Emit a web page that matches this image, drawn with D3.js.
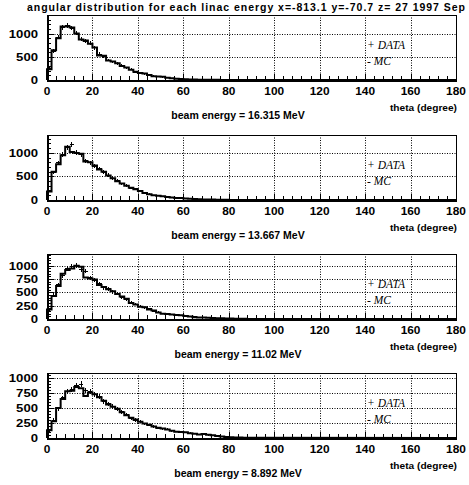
<!DOCTYPE html>
<html>
<head>
<meta charset="utf-8">
<script src="https://cdn.jsdelivr.net/npm/d3@7"></script>
<style>
  body { margin: 0; background: #fff; }
  text { font-family: "Liberation Sans", Arial, sans-serif; font-weight: bold; }
  text.leg { font-family: "Liberation Serif", "Times New Roman", serif; font-style: italic; font-weight: normal; }
  line, rect { shape-rendering: crispEdges; }
</style>
</head>
<body>
<div id="chart"></div>
<script>
// 2 degree bins from 0 to 90, rest of the range is empty
const binWidth = 2;
const energies = ["16.315", "13.667", "11.02", "8.892"];
const yMaxes = [1400, 1380, 1220, 1085];
const yMajor = [500, 500, 250, 250];
const yMinor = [100, 100, 50, 50];
const xTicks = [0, 20, 40, 60, 80, 100, 120, 140, 160, 180];

const mc1 = [230,640,900,1150,1150,1130,1000,870,850,780,700,530,520,420,400,360,300,270,220,180,150,140,110,80,75,70,50,40,25,20,18,12,10,8,6,5,4,3,2,2,1,1,0,0,0];
const data1 = [250,620,920,1130,1170,1120,1010,880,830,790,690,560,510,430,390,350,310,260,230,170,155,135,115,85,70,65,55,35,28,22,15,13,9,7,6,4,3,3,2,1,1,0,0,0,0];
const mc2 = [180,600,760,950,1130,1020,1000,980,820,800,730,650,600,520,460,400,350,300,260,230,190,150,120,100,90,80,65,55,45,40,30,25,20,15,12,10,8,5,4,3,2,2,1,1,0];
const data2 = [200,580,790,970,1110,1170,1010,960,830,790,720,670,590,530,450,410,340,310,250,235,185,155,125,95,92,78,68,52,47,38,32,24,19,16,11,9,7,6,4,3,2,1,1,0,0];
const mc3 = [180,430,620,850,920,950,1000,980,780,760,740,640,600,560,520,470,420,380,300,270,230,220,180,160,120,100,95,85,75,70,55,45,35,30,30,25,20,15,12,10,8,5,4,3,2];
const data3 = [170,450,640,820,940,980,1010,930,900,770,730,660,590,570,510,480,410,370,310,280,240,210,190,150,125,105,90,88,72,68,58,42,38,28,32,22,18,16,11,9,7,6,4,2,2];
const mc4 = [130,280,500,650,780,790,850,830,700,760,730,680,620,560,520,490,430,380,340,310,270,240,220,190,170,160,140,120,105,100,95,80,70,60,65,55,45,35,25,15,12,10,8,5,3];
const data4 = [120,300,490,670,770,810,880,900,790,770,720,690,610,570,530,480,440,390,330,300,280,235,215,195,165,155,145,118,108,98,90,82,72,62,60,52,42,32,22,18,11,9,7,4,2];

const mcs = [mc1, mc2, mc3, mc4];
const datas = [data1, data2, data3, data4];

const width = 469, height = 485;
const left = 47, right = 456;
const tops = [15, 135, 254, 373];
const ph = 65;

const svg = d3.select("#chart").append("svg")
  .attr("width", width).attr("height", height);

svg.append("text")
  .attr("x", 246).attr("y", 11)
  .attr("text-anchor", "middle")
  .attr("font-size", 10.5)
  .attr("textLength", 438)
  .text("angular distribution for each linac energy x=-813.1 y=-70.7 z= 27 1997 Sep");

const x = d3.scaleLinear().domain([0, 180]).range([left, right]);
const px = v => Math.round(v) + 0.5;

tops.forEach((top, i) => {
  const bottom = top + ph;
  const y = d3.scaleLinear().domain([0, yMaxes[i]]).range([bottom, top]);
  const g = svg.append("g");

  // dotted grid
  const yt = d3.range(yMajor[i], yMaxes[i], yMajor[i]);
  let grid = "";
  yt.forEach(d => { grid += `M${left},${px(y(d))}H${right}`; });
  xTicks.slice(1, -1).forEach(d => { grid += `M${px(x(d))},${top}V${bottom}`; });
  g.append("path").attr("d", grid)
    .attr("fill", "none").attr("stroke", "#000").attr("stroke-width", 1)
    .attr("stroke-dasharray", "1 1.5");

  // frame
  g.append("rect")
    .attr("x", left + 0.5).attr("y", top + 0.5)
    .attr("width", right - left).attr("height", ph)
    .attr("fill", "none").attr("stroke", "#000");

  // x ticks (major every 20, minor every 4)
  let xt = "";
  d3.range(0, 181, 4).forEach(d => {
    xt += `M${px(x(d))},${bottom}V${bottom - (d % 20 === 0 ? 6 : 4)}`;
  });
  g.append("path").attr("d", xt).attr("fill", "none").attr("stroke", "#000").attr("stroke-width", 1);

  // y ticks
  let ytk = "";
  d3.range(0, yMaxes[i], yMinor[i]).forEach(d => {
    ytk += `M${left},${px(y(d))}H${left + (d % yMajor[i] === 0 ? 7 : 4)}`;
  });
  g.append("path").attr("d", ytk).attr("fill", "none").attr("stroke", "#000").attr("stroke-width", 1);

  // thick axes
  g.append("line").attr("x1", left).attr("x2", right + 1)
    .attr("y1", bottom + 0.5).attr("y2", bottom + 0.5)
    .attr("stroke", "#000").attr("stroke-width", 2);
  g.append("line").attr("x1", left + 0.5).attr("x2", left + 0.5)
    .attr("y1", top).attr("y2", bottom + 1)
    .attr("stroke", "#000").attr("stroke-width", 2);

  // tick labels
  g.selectAll("text.xl").data(xTicks).join("text").attr("class", "xl")
    .attr("x", d => x(d)).attr("y", bottom + 15)
    .attr("text-anchor", "middle").attr("font-size", 11)
    .attr("textLength", d => String(d).length * 6.6).attr("lengthAdjust", "spacingAndGlyphs")
    .text(d => d);
  g.selectAll("text.yl").data(d3.range(0, yMaxes[i], yMajor[i])).join("text").attr("class", "yl")
    .attr("x", 38).attr("y", d => y(d) + 4)
    .attr("text-anchor", "end").attr("font-size", 11)
    .attr("textLength", d => String(d).length * 7.3).attr("lengthAdjust", "spacingAndGlyphs")
    .text(d => d);

  g.append("text").attr("x", 457).attr("y", bottom + 31)
    .attr("text-anchor", "end").attr("font-size", 9.5)
    .attr("textLength", 67).attr("lengthAdjust", "spacingAndGlyphs")
    .text("theta (degree)");
  g.append("text").attr("x", 238).attr("y", bottom + 39)
    .attr("text-anchor", "middle").attr("font-size", 10.5)
    .text("beam energy = " + energies[i] + " MeV");

  // legend
  g.append("text").attr("class", "leg").attr("x", 367).attr("y", top + 34)
    .attr("font-size", 11.5).text("+ DATA");
  g.append("text").attr("class", "leg").attr("x", 367).attr("y", top + 50)
    .attr("font-size", 11.5).text("- MC");

  // data crosses
  const dat = datas[i];
  g.selectAll("line.dh").data(dat).join("line").attr("class", "dh")
    .attr("x1", (d, k) => x(k * binWidth)).attr("x2", (d, k) => x((k + 1) * binWidth))
    .attr("y1", d => y(d)).attr("y2", d => y(d))
    .attr("stroke", "#000").attr("stroke-width", 1);
  g.selectAll("line.dv").data(dat).join("line").attr("class", "dv")
    .attr("x1", (d, k) => x((k + 0.5) * binWidth)).attr("x2", (d, k) => x((k + 0.5) * binWidth))
    .attr("y1", d => y(d + Math.sqrt(d) * 1.5)).attr("y2", d => y(Math.max(0, d - Math.sqrt(d) * 1.5)))
    .attr("stroke", "#000").attr("stroke-width", 1);

  // MC step outline
  const mc = mcs[i];
  const pts = [[0, 0]];
  mc.forEach((v, k) => {
    pts.push([k * binWidth, v]);
    pts.push([(k + 1) * binWidth, v]);
  });
  pts.push([180, 0]);
  g.append("path")
    .attr("d", d3.line().x(p => x(p[0])).y(p => y(p[1]))(pts))
    .attr("fill", "none").attr("stroke", "#000").attr("stroke-width", 2);
});
</script>
</body>
</html>
